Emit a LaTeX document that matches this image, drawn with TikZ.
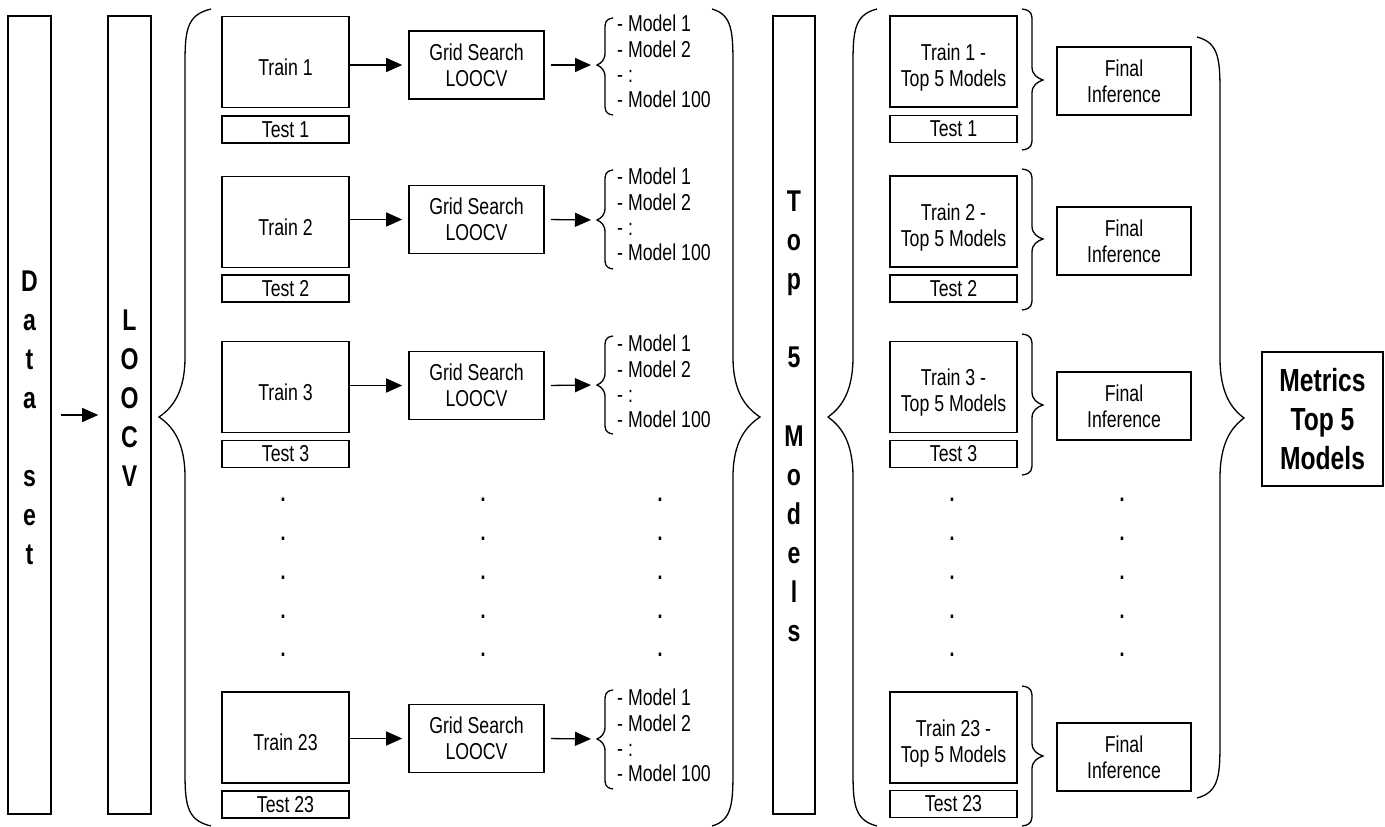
\documentclass[tikz,border=0pt]{standalone}
\usepackage{fontspec}
\setmainfont[FakeStretch=0.77]{Liberation Sans}
\usetikzlibrary{arrows.meta}
\newcommand{\mytopstrut}{\rule{0pt}{26.5pt}}
\newcommand{\mytopstrutb}{\rule{0pt}{28.5pt}}
\newcommand{\drawbrace}[7]{%
  \draw[braceline] (#1,#4) .. controls (#2,#4+0.1*#7) and (#2,#4+0.4*#7) .. (#2,#4+#7)
   -- (#2,#5-#7) .. controls (#2,#5-0.4*#7) and (0.5*#2+0.5*#3,#5-0.15*#7) .. (#3,#5)
   .. controls (0.5*#2+0.5*#3,#5+0.15*#7) and (#2,#5+0.4*#7) .. (#2,#5+#7)
   -- (#2,#6-#7) .. controls (#2,#6-0.4*#7) and (#2,#6-0.1*#7) .. (#1,#6);}
\begin{document}
\begin{tikzpicture}[x=1pt,y=-1pt,
  box/.style={draw, line width=1.6pt, inner sep=0pt, align=center, font=\fontsize{23}{26}\selectfont},
  bigletter/.style={font=\bfseries\fontsize{30}{39}\selectfont, inner sep=0pt, anchor=base},
  arr/.style={-{Triangle[length=16pt,width=14pt]}, line width=1.3pt},
  braceline/.style={line width=1.3pt},
  modeltext/.style={font=\fontsize{23}{25.3}\selectfont, align=left, anchor=north west, inner sep=0pt},
  dotmark/.style={font=\bfseries\fontsize{23}{25}\selectfont, inner sep=0pt}]
\useasboundingbox (0,0) rectangle (1385,827);

% tall boxes
\node[box, minimum width=43pt, minimum height=798pt] (ds) at (29.5,415) {};
\node[box, minimum width=43pt, minimum height=798pt] (lv) at (129.5,415) {};
\node[box, minimum width=42pt, minimum height=798pt] (t5) at (794,415) {};

\foreach \ch/\yy [count=\i] in {D/291,a/330,t/369,a/408,s/486,e/525,t/564}
  \node[bigletter] (dsl\i) at (29.5,\yy) {\ch};
\foreach \ch/\yy [count=\i] in {L/330,O/369,O/408,C/447,V/486}
  \node[bigletter] (lvl\i) at (129.5,\yy) {\ch};
\foreach \ch/\yy [count=\i] in {T/211,o/250,p/289,5/367.5,M/446,o/485,d/524,e/563,l/602,s/641}
  \node[bigletter] (tpl\i) at (794,\yy) {\ch};

\draw[arr, shorten <=9pt, shorten >=9pt] (ds.east) -- (lv.west);

% big braces
\drawbrace{211}{185}{159}{9}{417}{826}{60}
\drawbrace{712}{733}{760}{9}{417}{826}{60}
\drawbrace{877}{853}{828}{9}{417}{826}{60}
\drawbrace{1197}{1220}{1244}{37}{418}{798}{60}

% left section rows
\foreach \nn/\ry/\ey/\gy/\ba/\bmid/\bz/\my in {1/62/129.5/65/18/65/115/15, 2/222/288.5/219.5/170/220/269/168, 3/387/454/385.5/336/385/434/335, 23/737.5/804.5/738.5/690/739/789/689}{
  \node[box, minimum width=127pt, minimum height=91pt] (tr\nn) at (285.5,\ry) {\mytopstrut Train \nn};
  \node[box, minimum width=127pt, minimum height=27pt] (te\nn) at (285.5,\ey) {Test \nn};
  \node[box, minimum width=135pt, minimum height=68pt] (gs\nn) at (476.5,\gy) {Grid Search\\LOOCV};
  \node[modeltext] (ml\nn) at (617,\my) {- Model 1\\- Model 2\\- :\\- Model 100};
  \coordinate (mb\nn) at (597,\bmid);
  \drawbrace{613}{605}{597}{\ba}{\bmid}{\bz}{12}
  \draw[arr, shorten >=6pt] (gs\nn.west -| tr\nn.east) -- (gs\nn.west);
  \draw[arr, shorten <=6pt, shorten >=6pt] (gs\nn.east) -- (mb\nn);
}

% right section rows
\foreach \nn/\ry/\ey/\fy/\ba/\bmid/\bz in {1/61.5/129/81/9/80/150, 2/221.5/288.5/241/169/239/310, 3/387/454/406/334/405/475, 23/737.5/804/757/686/756/826}{
  \node[box, minimum width=127pt, minimum height=91pt] (rt\nn) at (953.5,\ry) {\mytopstrutb Train \nn{} -\\Top 5 Models};
  \node[box, minimum width=127pt, minimum height=27pt] (rs\nn) at (953.5,\ey) {Test \nn};
  \node[box, minimum width=134pt, minimum height=68pt] (fin\nn) at (1124,\fy) {Final\\Inference};
  \drawbrace{1022}{1032}{1043}{\ba}{\bmid}{\bz}{13}
}

% dots
\foreach \xx/\cc in {283/a,483/b,660/c,952/d,1122/e}
  \foreach \yy [count=\j] in {500,539,578,617,655}
    \node[dotmark] (dot\cc\j) at (\xx,\yy) {.};

% metrics
\node[box, font=\bfseries\fontsize{32}{39}\selectfont, minimum width=121pt, minimum height=134pt] (met) at (1322.5,419) {Metrics\\Top 5\\Models};
\end{tikzpicture}
\end{document}
